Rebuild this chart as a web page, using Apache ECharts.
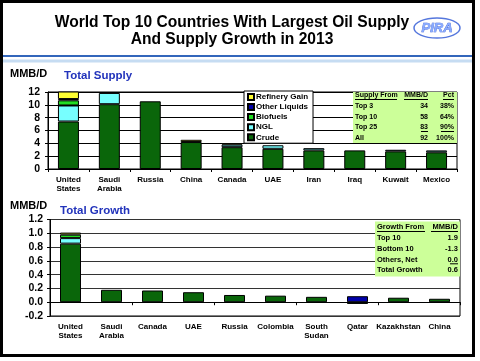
<!DOCTYPE html>
<html>
<head>
<meta charset="utf-8">
<script src="https://cdn.jsdelivr.net/npm/echarts@6/dist/echarts.min.js"></script>
<style>
html,body{margin:0;padding:0;background:#fff;}
#chart{width:480px;height:361px;}
</style>
</head>
<body>
<div id="chart"></div>
<script>
// ---------- DATA ----------
var supplyCategories = ['United\nStates','Saudi\nArabia','Russia','China','Canada','UAE','Iran','Iraq','Kuwait','Mexico'];
var supplyCrude      = [7.4, 10.1, 10.55, 4.2, 3.4, 3.15, 2.9, 2.9, 2.75, 2.6];
var supplyNGL        = [2.5, 1.75, 0, 0, 0.4, 0.55, 0.35, 0, 0.25, 0.3];
var supplyBiofuels   = [0.8, 0, 0, 0, 0, 0, 0, 0, 0, 0];
var supplyOther      = [0.2, 0, 0, 0, 0, 0, 0, 0, 0, 0];
var supplyRefGain    = [1.2, 0, 0, 0.35, 0.2, 0, 0, 0, 0, 0];

var growthCategories = ['United\nStates','Saudi\nArabia','Canada','UAE','Russia','Colombia','South\nSudan','Qatar','Kazakhstan','China'];
var growthCrude      = [0.85, 0.18, 0.17, 0.145, 0.105, 0.095, 0.078, -0.025, 0.065, 0.05];
var growthNGL        = [0.08, 0, 0, 0, 0, 0, 0, 0, 0, 0];
var growthBiofuels   = [0.05, 0, 0, 0, 0, 0, 0, 0, 0, 0];
var growthOther      = [0, 0, 0, 0, 0, 0, 0, 0.087, 0, 0];
var growthRefGain    = [0.03, 0, 0, 0, 0, 0, 0, 0, 0, 0];

var supplyTicks = {min: 0, max: 12, interval: 2};
var growthTicks = {min: -0.2, max: 1.2, interval: 0.2};

var supplyTableHead  = ['Supply From', 'MMB/D', 'Pct'];
var supplyTableRows  = ['Top 3', 'Top 10', 'Top 25', 'All'];
var supplyTableMMBD  = ['34', '58', '83', '92'];
var supplyTablePct   = ['38%', '64%', '90%', '100%'];

var growthTableHead  = ['Growth From', 'MMB/D'];
var growthTableRows  = ['Top 10', 'Bottom 10', 'Others, Net', 'Total Growth'];
var growthTableMMBD  = ['1.9', '-1.3', '0.0', '0.6'];

var seriesNames = ['Crude', 'NGL', 'Biofuels', 'Other Liquids', 'Refinery Gain'];
// ---------- STYLE ----------
var colors = {
  'Crude': '#0a660a',
  'NGL': '#77ffff',
  'Biofuels': '#22dd22',
  'Other Liquids': '#0000aa',
  'Refinery Gain': '#ffff33'
};
var FONT = "'Liberation Sans', Arial, sans-serif";

function clean(arr){ return arr.map(function(v){ return v === 0 ? '-' : v; }); }

var supplyData = [supplyCrude, supplyNGL, supplyBiofuels, supplyOther, supplyRefGain];
var growthData = [growthCrude, growthNGL, growthBiofuels, growthOther, growthRefGain];

var series = [];
seriesNames.forEach(function(name, i){
  series.push({
    name: name, type: 'bar', stack: 'supply', xAxisIndex: 0, yAxisIndex: 0,
    barWidth: 21, data: clean(supplyData[i]),
    itemStyle: {color: colors[name], borderColor: '#000', borderWidth: 1},
    emphasis: {disabled: true}
  });
  series.push({
    name: name, type: 'bar', stack: 'growth', xAxisIndex: 1, yAxisIndex: 1,
    barWidth: 21, data: clean(growthData[i]),
    itemStyle: {color: colors[name], borderColor: '#000', borderWidth: 1},
    emphasis: {disabled: true}
  });
});

// ---------- GRAPHIC ----------
var g = [];
function txt(t, x, y, size, opts){
  opts = opts || {};
  g.push({
    type: 'text', z: 100,
    style: {
      text: t, x: x, y: y,
      font: (opts.italic ? 'italic ' : '') + 'bold ' + size + 'px ' + FONT,
      fill: opts.color || '#000',
      align: opts.align || 'left', verticalAlign: 'middle',
      stroke: opts.stroke, lineWidth: opts.lineWidth || 0
    }
  });
}
function line(x1, y1, x2, y2, color, w){
  g.push({type: 'line', z: 100, shape: {x1: x1, y1: y1, x2: x2, y2: y2},
    style: {stroke: color || '#000', lineWidth: w || 1}});
}
// frame
g.push({type: 'rect', z: 90, shape: {x: 1.5, y: 1.5, width: 472, height: 354},
  style: {fill: 'none', stroke: '#000', lineWidth: 3}});
// title
txt('World Top 10 Countries With Largest Oil Supply', 232, 22.5, 15.6, {align: 'center'});
txt('And Supply Growth in 2013', 232, 39.5, 15.6, {align: 'center'});
// logo
g.push({type: 'ellipse', z: 100, shape: {cx: 437, cy: 28, rx: 23, ry: 10},
  style: {fill: '#fff', stroke: '#5577dd', lineWidth: 1.5}});
txt('PIRA', 437, 28.5, 13, {align: 'center', italic: true, color: '#88aaff', stroke: '#3355cc', lineWidth: 0.6});
// blue separator
line(3, 56, 472, 56, '#3366bb', 2);
g.push({type: 'rect', z: 100, shape: {x: 3, y: 59.5, width: 469, height: 3},
  style: {fill: '#c6dcf2'}});
// axis names / section titles
txt('MMB/D', 10, 74, 11);
txt('Total Supply', 64, 76, 11.5, {color: '#2233bb'});
txt('MMB/D', 10, 206, 11);
txt('Total Growth', 60, 211, 11.5, {color: '#2233bb'});

// supply table
g.push({type: 'rect', z: 95, shape: {x: 353, y: 92, width: 104, height: 51}, style: {fill: '#ccff99'}});
txt(supplyTableHead[0], 355, 95.5, 7);
txt(supplyTableHead[1], 428, 95.5, 7, {align: 'right'});
txt(supplyTableHead[2], 454, 95.5, 7, {align: 'right'});
line(355, 99.5, 397, 99.5); line(404, 99.5, 428, 99.5); line(443, 99.5, 454, 99.5);
var sRowY = [106.5, 117, 127.5, 138];
supplyTableRows.forEach(function(r, i){
  txt(r, 355, sRowY[i], 7);
  txt(supplyTableMMBD[i], 428, sRowY[i], 7, {align: 'right'});
  txt(supplyTablePct[i], 454, sRowY[i], 7, {align: 'right'});
});
line(421, 131.5, 428, 131.5); line(441, 131.5, 454, 131.5);

// growth table
g.push({type: 'rect', z: 95, shape: {x: 375, y: 221.5, width: 85, height: 55}, style: {fill: '#ccff99'}});
txt(growthTableHead[0], 377, 227, 7.5);
txt(growthTableHead[1], 458, 227, 7.5, {align: 'right'});
line(377, 231.5, 425, 231.5); line(431, 231.5, 458, 231.5);
var gRowY = [238, 248.8, 259.6, 270.4];
growthTableRows.forEach(function(r, i){
  txt(r, 377, gRowY[i], 7.5);
  txt(growthTableMMBD[i], 458, gRowY[i], 7.5, {align: 'right'});
});
line(450, 263.8, 458, 263.8);

// ---------- OPTION ----------
var catLabel = {fontFamily: FONT, fontWeight: 'bold', fontSize: 8, color: '#000', lineHeight: 9, interval: 0, margin: 6};
var option = {
  animation: false,
  backgroundColor: '#fff',
  legend: {
    data: ['Refinery Gain', 'Other Liquids', 'Biofuels', 'NGL', 'Crude'],
    orient: 'vertical', left: 244, top: 91,
    itemWidth: 6, itemHeight: 6, itemGap: 0.3,
    padding: [1, 5, 1, 3],
    backgroundColor: '#fff', borderColor: '#000', borderWidth: 1,
    icon: 'rect',
    textStyle: {fontFamily: FONT, fontWeight: 'bold', fontSize: 8, color: '#000', lineHeight: 9.8, padding: [0, 0, 0, -3]},
    selectedMode: false
  },
  grid: [
    {left: 48, top: 92, width: 409, height: 77, show: true, borderColor: '#000', borderWidth: 1, containLabel: false},
    {left: 50, top: 219.5, width: 410, height: 96.5, show: true, borderColor: '#000', borderWidth: 1, containLabel: false}
  ],
  xAxis: [
    {type: 'category', gridIndex: 0, data: supplyCategories,
     axisLine: {show: true, lineStyle: {color: '#000'}},
     axisTick: {show: true, inside: false, length: 3, lineStyle: {color: '#000'}},
     axisLabel: catLabel},
    {type: 'category', gridIndex: 1, data: growthCategories,
     axisLine: {show: false, onZero: false}, axisTick: {show: false},
     axisLabel: catLabel},
    {type: 'category', gridIndex: 1, data: growthCategories, position: 'bottom',
     axisLine: {show: true, onZero: true, onZeroAxisIndex: 1, lineStyle: {color: '#000'}},
     axisTick: {show: true, length: 3, lineStyle: {color: '#000'}},
     axisLabel: {show: false}}
  ],
  yAxis: [
    {type: 'value', gridIndex: 0, min: supplyTicks.min, max: supplyTicks.max, interval: supplyTicks.interval,
     axisLine: {show: true, lineStyle: {color: '#000'}},
     axisTick: {show: true, length: 3, lineStyle: {color: '#000'}},
     splitLine: {show: true, lineStyle: {color: '#000', width: 1}},
     axisLabel: {fontFamily: FONT, fontWeight: 'bold', fontSize: 10.5, color: '#000', margin: 8}},
    {type: 'value', gridIndex: 1, min: growthTicks.min, max: growthTicks.max, interval: growthTicks.interval,
     axisLine: {show: true, lineStyle: {color: '#000'}},
     axisTick: {show: true, length: 3, lineStyle: {color: '#000'}},
     splitLine: {show: true, lineStyle: {color: '#333', width: 1}},
     axisLabel: {fontFamily: FONT, fontWeight: 'bold', fontSize: 10.5, color: '#000', margin: 7,
       formatter: function(v){ return v.toFixed(1); }}}
  ],
  series: series,
  graphic: g
};
var chart = echarts.init(document.getElementById('chart'), null, {renderer: 'canvas'});
chart.setOption(option);
</script>
</body>
</html>
